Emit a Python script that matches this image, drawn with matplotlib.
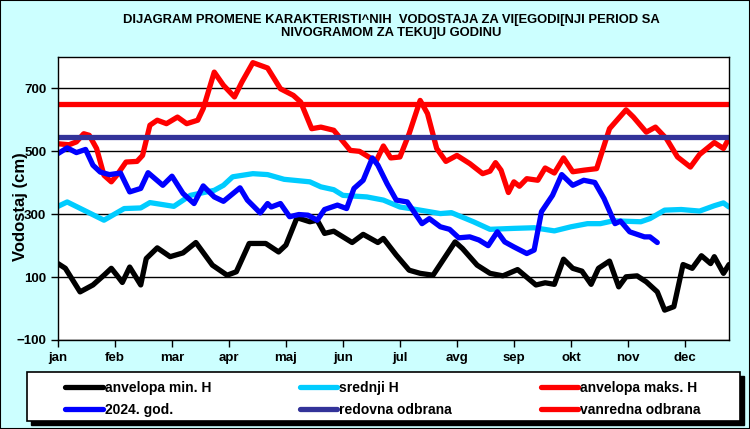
import numpy as np
import matplotlib
matplotlib.use("Agg")
import matplotlib.pyplot as plt

# day of year (0..365) and level in cm
min_day = [0, 4, 12, 19, 25, 29, 32, 35, 39, 45, 48, 54, 61, 68, 75, 84, 92, 97, 104, 113,
           120, 124, 130, 137, 141, 145, 150, 160, 166, 174, 177, 184, 191, 197, 204, 210,
           216, 220, 228, 235, 242, 250, 260, 265, 270, 275, 280, 285, 290, 294, 300, 305,
           309, 315, 320, 326, 330, 335, 340, 345, 350, 355, 357, 362, 365]
min_h = [143, 128, 53, 75, 106, 128, 106, 83, 132, 75, 159, 193, 165, 177, 210, 138, 106, 117, 207, 207,
         180, 202, 289, 276, 281, 239, 246, 210, 236, 210, 223, 170, 122, 112, 106, 159,
         212, 191, 138, 112, 104, 124, 75, 82, 77, 157, 128, 119, 77, 128, 151, 69,
         101, 104, 85, 53, -5, 6, 140, 128, 168, 143, 165, 112, 140]

mean_day = [0, 5, 14, 25, 36, 45, 50, 63, 72, 85, 90, 95, 106, 114, 123, 137, 143, 150, 155,
            168, 177, 186, 197, 208, 214, 226, 235, 248, 259, 270, 279, 288, 295, 302, 317,
            322, 330, 339, 349, 357, 362, 365]
mean_h = [325, 339, 313, 281, 318, 320, 337, 325, 360, 376, 392, 419, 429, 426, 411, 403, 387, 378, 360,
          355, 345, 323, 313, 302, 305, 276, 252, 255, 257, 247, 260, 270, 270, 279, 276,
          286, 313, 315, 310, 327, 336, 323]

max_day = [0, 6, 10, 14, 17, 21, 25, 29, 32, 37, 43, 46, 50, 54, 59, 65, 70, 76, 79, 85, 90,
           96, 100, 106, 114, 121, 128, 132, 138, 143, 150, 159, 164, 173, 177, 181, 186,
           191, 197, 201, 206, 211, 217, 224, 231, 235, 238, 241, 245, 248, 251, 255, 261,
           265, 270, 275, 280, 286, 293, 300, 309, 313, 320, 325, 331, 337, 344, 349, 357,
           362, 365]
max_h = [524, 521, 530, 556, 551, 509, 424, 403, 424, 466, 468, 487, 583, 599, 588, 609, 588, 599, 636, 752, 710,
         673, 720, 782, 765, 699, 678, 657, 572, 577, 567, 503, 500, 468, 517, 479, 482,
         556, 662, 620, 509, 468, 487, 461, 429, 437, 464, 440, 369, 403, 389, 413, 408,
         447, 431, 479, 435, 440, 445, 572, 632, 609, 561, 577, 540, 482, 450, 490, 528,
         509, 542]

cur_day = [0, 5, 10, 15, 19, 23, 28, 34, 39, 45, 49, 57, 62, 68, 74, 79, 85, 90, 99, 103, 110,
           114, 116, 121, 126, 131, 136, 141, 145, 152, 157, 161, 166, 171, 174, 179, 184,
           190, 198, 202, 208, 213, 218, 224, 229, 234, 239, 243, 248, 255, 259, 263, 269,
           274, 280, 286, 292, 297, 303, 306, 311, 319, 322, 326]
cur_h = [493, 511, 496, 506, 456, 434, 426, 431, 371, 382, 432, 392, 421, 366, 334, 390, 355, 341, 384, 345, 304,
         334, 323, 334, 292, 299, 297, 281, 315, 329, 318, 382, 408, 479, 456, 397, 345,
         339, 270, 286, 260, 252, 225, 228, 218, 200, 244, 212, 196, 175, 186, 308, 360,
         426, 392, 408, 401, 350, 270, 278, 244, 228, 228, 210]

redovna = 545
vanredna = 650

month_days = [0, 31, 62, 93, 124, 155, 186, 217, 248, 279, 310, 341]
month_labels = ["jan", "feb", "mar", "apr", "maj", "jun", "jul", "avg", "sep", "okt", "nov", "dec"]

W, H = 750, 429
fig = plt.figure(figsize=(7.5, 4.29), dpi=100, facecolor="#CCFFFF")
fig.patches.append(plt.Rectangle((0, 0), 1, 1, transform=fig.transFigure,
                                 fill=False, edgecolor="black", linewidth=1.5))
ax = fig.add_axes([58 / W, 89 / H, 671 / W, 283 / H])
ax.set_facecolor("white")

lw = 3.8
style = dict(lw=lw, solid_joinstyle="round", solid_capstyle="round")
l_min, = ax.plot(min_day, min_h, color="black", label="anvelopa min. H", **style)
l_mean, = ax.plot(mean_day, mean_h, color="#00CCFF", label="srednji H", **style)
l_max, = ax.plot(max_day, max_h, color="red", label="anvelopa maks. H", **style)
l_cur, = ax.plot(cur_day, cur_h, color="blue", label="2024. god.", **style)
l_red = ax.axhline(redovna, color="#333399", lw=lw, label="redovna odbrana")
l_van = ax.axhline(vanredna, color="red", lw=lw, label="vanredna odbrana")

ax.set_xlim(0, 365)
ax.set_ylim(-100, 800)
ax.set_yticks([-100, 100, 300, 500, 700])
ax.set_xticks(month_days)
ax.set_xticklabels(month_labels)
ax.yaxis.grid(True, color="black", lw=1)
ax.set_axisbelow(True)
ax.tick_params(direction="out", length=5, width=1, colors="black", labelsize=9.5)
for lab in ax.get_xticklabels() + ax.get_yticklabels():
    lab.set_fontweight("bold")
    lab.set_family(["Liberation Sans", "DejaVu Sans"])
for s in ax.spines.values():
    s.set_linewidth(1)
ax.set_ylabel("Vodostaj (cm)", fontsize=12, fontweight="bold",
              family=["Liberation Sans", "DejaVu Sans"])
ax.yaxis.set_label_coords(-0.045, 0.472)

fig.text(0.522, 0.968, "DIJAGRAM PROMENE KARAKTERISTI^NIH  VODOSTAJA ZA VI[EGODI[NJI PERIOD SA\n"
         "NIVOGRAMOM ZA TEKU]U GODINU", ha="center", va="top", fontsize=9.4,
         fontweight="bold", family=["Liberation Sans Narrow", "Liberation Sans"],
         linespacing=1.15)

# legend box with a hard black shadow
fig.patches.append(plt.Rectangle((31 / W, 4 / H), 713 / W, 49 / H, transform=fig.transFigure,
                                 facecolor="black", edgecolor="black", lw=1))
fig.patches.append(plt.Rectangle((27 / W, 8 / H), 713 / W, 49 / H, transform=fig.transFigure,
                                 facecolor="white", edgecolor="black", lw=1.2))

handles = [l_min, l_cur, l_mean, l_red, l_max, l_van]
leg = fig.legend(handles, [h.get_label() for h in handles], ncol=3,
                 bbox_to_anchor=(64 / W, 11 / H, 638 / W, 43 / H), loc="lower left",
                 mode="expand", frameon=False, handlelength=2.7, handletextpad=0.15,
                 borderaxespad=0, borderpad=0.1, labelspacing=0.55,
                 prop={"weight": "bold", "size": 10, "family": ["Liberation Sans", "DejaVu Sans"]})
for h in leg.legend_handles:
    h.set_solid_capstyle("round")

fig.savefig("out.png", dpi=100, facecolor=fig.get_facecolor())
